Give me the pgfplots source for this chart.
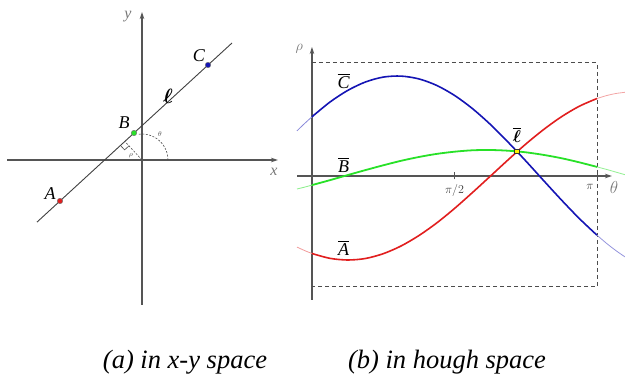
\documentclass[border=0pt]{standalone}
\usepackage{amsmath}
\usepackage{fontspec}
\setmainfont{Liberation Serif}
\usepackage{pgfplots}
\pgfplotsset{compat=1.18}
\usetikzlibrary{arrows.meta}
\definecolor{cblue}{RGB}{20,20,180}
\definecolor{cred}{RGB}{225,30,30}
\definecolor{cgreen}{RGB}{40,225,40}
\definecolor{axisgray}{RGB}{85,85,85}
\definecolor{lblgray}{RGB}{120,120,120}

\begin{document}
\begin{tikzpicture}
\path[use as bounding box] (0,0) rectangle (625pt,378pt);

% (a) line l through A, B, C in the x-y plane (1 unit = 1pt)
\begin{axis}[
    at={(7pt,73pt)}, anchor=south west,
    scale only axis, width=271pt, height=293pt,
    xmin=-135, xmax=136, ymin=-145, ymax=148,
    axis lines=middle, ticks=none, clip=false,
    axis line style={axisgray, line width=1.1pt, -{Stealth[length=7pt,width=4.5pt]}},
]
\addplot[black!75, line width=0.9pt] coordinates {(-105,-62.1)(90,117)};
% perpendicular from the origin and right-angle mark
\addplot[black!70, line width=0.6pt, dash pattern=on 2pt off 1.5pt] coordinates {(0,0)(-17.1,18.6)};
\addplot[black!70, line width=0.6pt] coordinates {(-21.5,14.5)(-17.4,10.1)(-13.0,14.2)};
% theta arc
\addplot[black!70, line width=0.6pt, dash pattern=on 2pt off 1.5pt, smooth] coordinates {
    (26,0)(25.6,4.5)(24.4,8.9)(22.5,13)(19.9,16.7)(16.7,19.9)(13,22.5)(8.9,24.4)(4.5,25.6)(0,26)(-4.5,25.6)};
\addplot[only marks, mark=*, mark size=2.7pt, mark options={fill=cred, draw=black!60}] coordinates {(-82,-41)};
\addplot[only marks, mark=*, mark size=2.7pt, mark options={fill=cgreen, draw=black!60}] coordinates {(-8,27)};
\addplot[only marks, mark=*, mark size=2.7pt, mark options={fill=cblue, draw=black!60}] coordinates {(66,95)};
\node[font=\fontsize{18}{19}\selectfont\itshape] at (-92,-34) {A};
\node[font=\fontsize{18}{19}\selectfont\itshape] at (-18,37) {B};
\node[font=\fontsize{18}{19}\selectfont\itshape] at (57,104) {C};
\node[font=\fontsize{21}{22}\selectfont] at (26,64) {$\boldsymbol{\ell}$};
\node[font=\fontsize{7}{8}\selectfont, text=black!70] at (18,26) {$\theta$};
\node[font=\fontsize{7}{8}\selectfont, text=black!70] at (-11,4) {$\rho$};
\node[font=\fontsize{16}{17}\selectfont\itshape, text=lblgray] at (-14,143) {y};
\node[font=\fontsize{16}{17}\selectfont\itshape, text=lblgray] at (132,-12) {x};
\end{axis}

% (b) the three sinusoids rho = x cos(theta) + y sin(theta)
\begin{axis}[
    at={(297pt,78pt)}, anchor=south west,
    scale only axis, width=315pt, height=253pt,
    xmin=-0.165, xmax=3.307, ymin=-124, ymax=129,
    axis lines=middle, clip=false,
    axis line style={axisgray, line width=1.1pt, -{Stealth[length=7pt,width=4.5pt]}},
    xtick={1.5708}, xticklabels={$\pi/2$},
    extra x ticks={3.1416}, extra x tick labels={$\pi$},
    extra x tick style={xticklabel style={xshift=-7pt}},
    ytick=\empty,
    major tick length=7pt, tick align=center,
    tick style={axisgray, line width=1pt},
    xticklabel style={font=\fontsize{13}{14}\selectfont, text=black!75, yshift=-1pt},
]
% dashed frame
\addplot[black!70, line width=1pt, dash pattern=on 4pt off 3pt] coordinates {(0,113)(3.1416,113)(3.1416,-111)(0,-111)};

% C (blue)
\addplot[cblue!50, line width=0.8pt, smooth] coordinates {(-0.165,45.2)(-0.08,52.6)(0,59.2)};
\addplot[cblue, line width=1.6pt, smooth] coordinates {
    (0,59.2)(0.1963,73.8)(0.3927,85.5)(0.5890,94.0)(0.7854,98.9)(0.9817,99.9)
    (1.1781,97.1)(1.3744,90.6)(1.5708,80.6)(1.7671,67.5)(1.9635,51.8)(2.1598,34.0)
    (2.3562,15.1)(2.5525,-4.5)(2.7489,-23.9)(2.9452,-42.4)(3.1416,-59.2)};
\addplot[cblue!45, line width=0.8pt, smooth] coordinates {(3.1416,-59.2)(3.25,-67.6)(3.35,-74.6)(3.45,-80.9)};

% A (red)
\addplot[cred!45, line width=0.8pt, smooth] coordinates {(-0.165,-71.1)(-0.08,-74.6)(0,-77.5)};
\addplot[cred, line width=1.6pt, smooth] coordinates {
    (0,-77.5)(0.1963,-82.3)(0.3927,-84.0)(0.5890,-82.5)(0.7854,-77.7)(0.9817,-70.0)
    (1.1781,-59.6)(1.3744,-47.0)(1.5708,-32.5)(1.7671,-16.7)(1.9635,-0.4)(2.1598,16.0)
    (2.3562,31.9)(2.5525,46.4)(2.7489,59.2)(2.9452,69.7)(3.1416,77.5)};
\addplot[cred!40, line width=0.8pt, smooth] coordinates {(3.1416,77.5)(3.25,80.5)(3.35,82.5)(3.45,83.7)};

% B (green)
\addplot[cgreen!55, line width=0.8pt, smooth] coordinates {(-0.165,-13.0)(-0.08,-11.1)(0,-9.1)};
\addplot[cgreen, line width=1.8pt, smooth] coordinates {
    (0,-9.1)(0.1963,-4.2)(0.3927,0.9)(0.5890,5.9)(0.7854,10.7)(0.9817,15.2)
    (1.1781,19.0)(1.3744,22.1)(1.5708,24.3)(1.7671,25.7)(1.9635,26.0)(2.1598,25.3)
    (2.3562,23.7)(2.5525,21.1)(2.7489,17.8)(2.9452,13.7)(3.1416,9.1)};
\addplot[cgreen!50, line width=0.8pt, smooth] coordinates {(3.1416,9.1)(3.25,6.5)(3.35,3.9)(3.45,1.3)};

% common point l
\addplot[only marks, mark=square*, mark size=2.3pt, mark options={fill=yellow, draw=black!80, line width=0.6pt}] coordinates {(2.26,24.6)};

\node[font=\fontsize{18}{19}\selectfont] at (0.35,95) {$\overline{\mbox{\itshape C}}$};
\node[font=\fontsize{18}{19}\selectfont] at (0.35,11) {$\overline{\mbox{\itshape B}}$};
\node[font=\fontsize{18}{19}\selectfont] at (0.35,-72) {$\overline{\mbox{\itshape A}}$};
\node[font=\fontsize{19}{20}\selectfont] at (2.26,41) {$\overline{\boldsymbol{\ell}}$};
\node[font=\fontsize{15}{16}\selectfont, text=lblgray] at (-0.14,127) {$\rho$};
\node[font=\fontsize{16}{17}\selectfont, text=lblgray] at (3.33,-12) {$\theta$};
\end{axis}

\node[font=\fontsize{26.5}{30}\selectfont\itshape] at (185pt,16pt) {(a) in x-y space};
\node[font=\fontsize{26.5}{30}\selectfont\itshape] at (447pt,16pt) {(b) in hough space};
\end{tikzpicture}
\end{document}
